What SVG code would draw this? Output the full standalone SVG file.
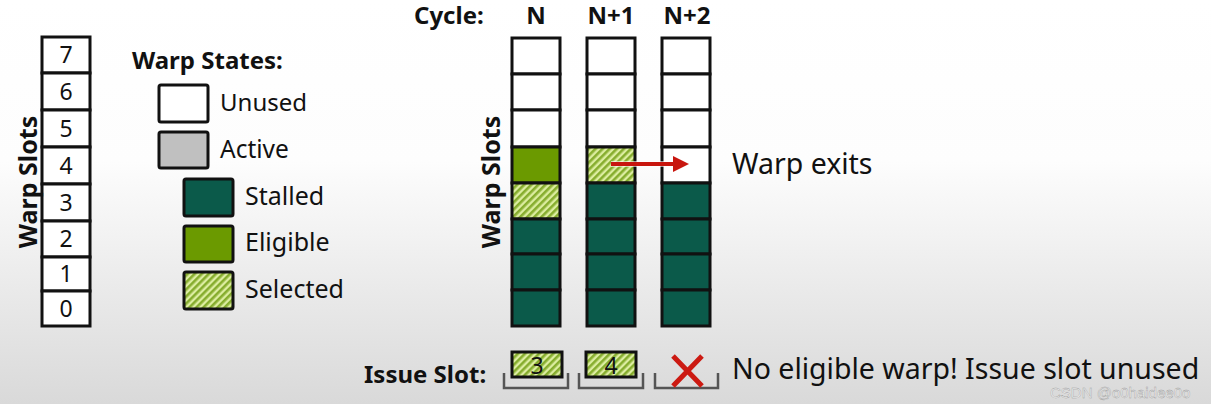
<svg xmlns="http://www.w3.org/2000/svg" width="1211" height="404" viewBox="0 0 1211 404">
<defs>
<linearGradient id="bg" x1="0" y1="0" x2="0" y2="1">
<stop offset="0" stop-color="#ffffff"/>
<stop offset="0.4" stop-color="#fdfdfd"/>
<stop offset="1" stop-color="#d9d9d9"/>
</linearGradient>
<pattern id="hatch" width="5" height="5" patternUnits="userSpaceOnUse" patternTransform="rotate(45)">
<rect width="5" height="5" fill="#dcedA0"/>
<rect width="2.6" height="5" fill="#86ad2e"/>
</pattern>
<style>
.cell{stroke:#111;stroke-width:3}
.u{fill:#fff}
.a{fill:#c0c0c0}
.s{fill:#0b5a4a}
.e{fill:#6b9a00}
.h{fill:url(#hatch)}
.t{font-family:"Noto Sans","Open Sans",sans-serif;fill:#111}
.b{font-family:"Noto Sans","Open Sans",sans-serif;font-weight:bold;fill:#111}
.num{font-family:"Noto Sans","Open Sans",sans-serif;font-size:23px;fill:#111;text-anchor:middle}
.br{fill:none;stroke:#555;stroke-width:2.5}
</style>
</defs>
<rect width="1211" height="404" fill="url(#bg)"/>

<g id="left-slots">
<rect class="cell u" x="42" y="37" width="48" height="36"/>
<rect class="cell u" x="42" y="73" width="48" height="37"/>
<rect class="cell u" x="42" y="110" width="48" height="37"/>
<rect class="cell u" x="42" y="147" width="48" height="37"/>
<rect class="cell u" x="42" y="184" width="48" height="37"/>
<rect class="cell u" x="42" y="221" width="48" height="36"/>
<rect class="cell u" x="42" y="257" width="48" height="34"/>
<rect class="cell u" x="42" y="291" width="48" height="35"/>
<text class="num" x="66" y="63">7</text>
<text class="num" x="66" y="100">6</text>
<text class="num" x="66" y="137">5</text>
<text class="num" x="66" y="174">4</text>
<text class="num" x="66" y="211">3</text>
<text class="num" x="66" y="247">2</text>
<text class="num" x="66" y="282">1</text>
<text class="num" x="66" y="317">0</text>
<text class="b" font-size="25" text-anchor="middle" transform="translate(37,182) rotate(-90)">Warp Slots</text>
</g>

<g id="legend">
<text class="b" x="132" y="69" font-size="24">Warp States:</text>
<rect class="cell u" x="159" y="85" width="49" height="37" rx="2"/>
<text class="t" x="220" y="111" font-size="24">Unused</text>
<rect class="cell a" x="159" y="132" width="49" height="36" rx="2"/>
<text class="t" x="220" y="158" font-size="24.5">Active</text>
<rect class="cell s" x="184" y="179" width="49" height="37" rx="2"/>
<text class="t" x="245" y="205" font-size="25">Stalled</text>
<rect class="cell e" x="184" y="226" width="49" height="36" rx="2"/>
<text class="t" x="245" y="251" font-size="25">Eligible</text>
<rect class="cell h" x="184" y="272" width="49" height="37" rx="2"/>
<text class="t" x="245" y="298" font-size="25">Selected</text>
</g>

<g id="cycle-header">
<text class="b" x="414" y="24" font-size="24">Cycle:</text>
<text class="b" x="536" y="24" font-size="24" text-anchor="middle">N</text>
<text class="b" x="611" y="24" font-size="24" text-anchor="middle">N+1</text>
<text class="b" x="687" y="24" font-size="24" text-anchor="middle">N+2</text>
<text class="b" font-size="25" text-anchor="middle" transform="translate(500,182) rotate(-90)">Warp Slots</text>
</g>

<g id="cycle-N">
<rect class="cell u" x="512" y="38" width="48" height="36"/>
<rect class="cell u" x="512" y="74" width="48" height="36"/>
<rect class="cell u" x="512" y="110" width="48" height="37"/>
<rect class="cell e" x="512" y="147" width="48" height="36"/>
<rect class="cell h" x="512" y="183" width="48" height="36"/>
<rect class="cell s" x="512" y="219" width="48" height="35"/>
<rect class="cell s" x="512" y="254" width="48" height="36"/>
<rect class="cell s" x="512" y="290" width="48" height="36"/>
</g>

<g id="cycle-N1">
<rect class="cell u" x="587" y="38" width="48" height="36"/>
<rect class="cell u" x="587" y="74" width="48" height="36"/>
<rect class="cell u" x="587" y="110" width="48" height="37"/>
<rect class="cell h" x="587" y="147" width="48" height="36"/>
<rect class="cell s" x="587" y="183" width="48" height="36"/>
<rect class="cell s" x="587" y="219" width="48" height="35"/>
<rect class="cell s" x="587" y="254" width="48" height="36"/>
<rect class="cell s" x="587" y="290" width="48" height="36"/>
</g>

<g id="cycle-N2">
<rect class="cell u" x="662" y="38" width="48" height="36"/>
<rect class="cell u" x="662" y="74" width="48" height="36"/>
<rect class="cell u" x="662" y="110" width="48" height="37"/>
<rect class="cell u" x="662" y="147" width="48" height="36"/>
<rect class="cell s" x="662" y="183" width="48" height="36"/>
<rect class="cell s" x="662" y="219" width="48" height="35"/>
<rect class="cell s" x="662" y="254" width="48" height="36"/>
<rect class="cell s" x="662" y="290" width="48" height="36"/>
</g>

<g id="connectors">
<path d="M611,164 H676 M673,156 L689,164 L673,172 z" stroke="#fff" stroke-width="6" stroke-opacity="0.6" fill="#fff" stroke-linejoin="round"/>
<line x1="611" y1="164" x2="676" y2="164" stroke="#c8160e" stroke-width="4"/>
<path d="M673,156 L689,164 L673,172 z" fill="#c8160e"/>
</g>

<g id="warp-exits">
<text class="t" x="732" y="174" font-size="28.5">Warp exits</text>
</g>

<g id="issue-slot">
<text class="b" x="364" y="383" font-size="24">Issue Slot:</text>
<path class="br" d="M504,373 V388 H568 V373"/>
<path class="br" d="M579,373 V388 H643 V373"/>
<path class="br" d="M655,373 V388 H718 V373"/>
<rect class="cell h" x="512" y="352" width="50" height="25"/>
<text class="num" x="537" y="374" font-size="22">3</text>
<rect class="cell h" x="586" y="352" width="50" height="25"/>
<text class="num" x="611" y="374" font-size="22">4</text>
<path d="M673,356 L702,386 M702,356 L673,386" stroke="#cc1a12" stroke-width="5" fill="none"/>
<text class="t" x="732" y="379" font-size="28.5">No eligible warp! Issue slot unused</text>
</g>

<g id="watermark">
<text x="1050" y="398" font-family="Liberation Sans, sans-serif" font-size="15" fill="#f4f4f4" stroke="#9a9a9a" stroke-width="0.4">CSDN @o0haidee0o</text>
</g>
</svg>
